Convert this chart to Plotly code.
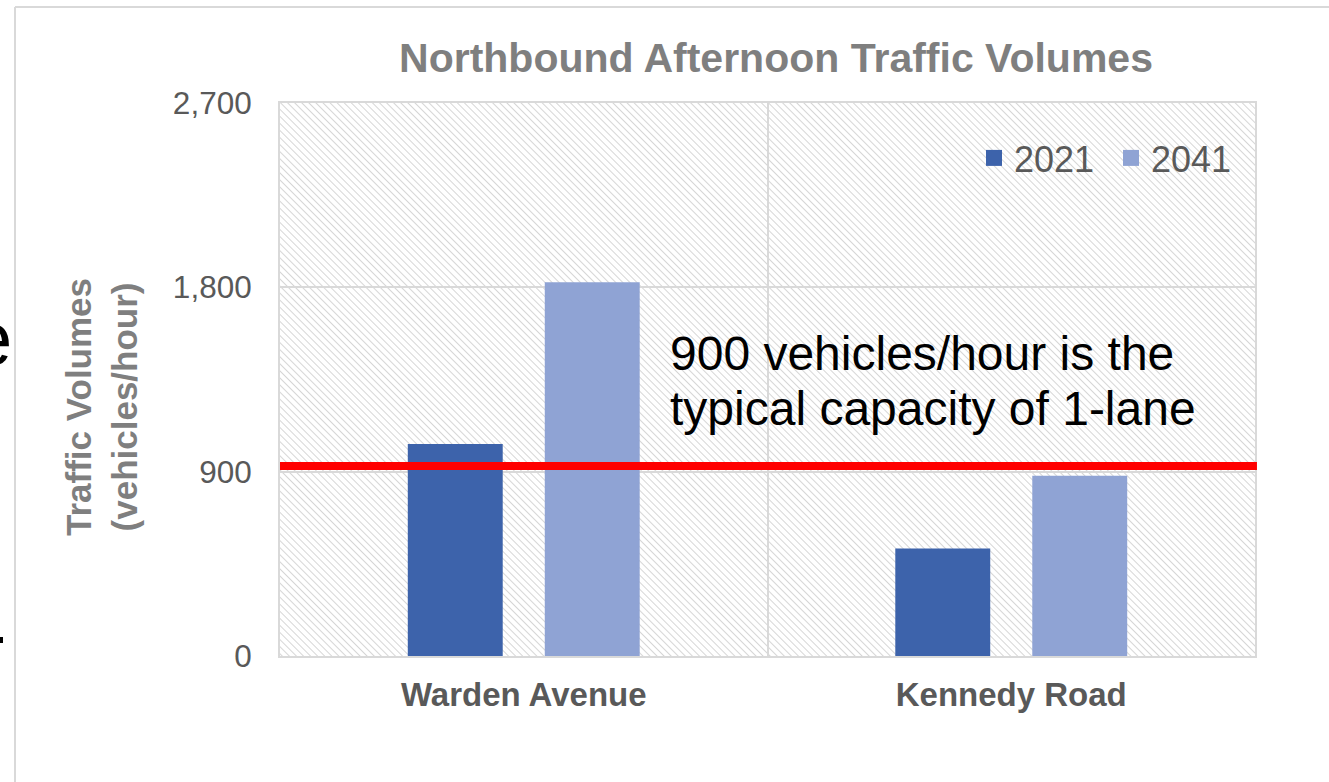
import base64
import plotly.graph_objects as go

# ---- data ----
categories = ["Warden Avenue", "Kennedy Road"]
series_names = ["2021", "2041"]
values_2021 = [1035, 525]
values_2041 = [1825, 880]
capacity_value = 928          # red reference line as drawn (labelled 900 veh/h)
y_tick_values = [0, 900, 1800, 2700]
y_tick_labels = ["0", "900", "1,800", "2,700"]
y_max = 2700
title_text = "Northbound Afternoon Traffic Volumes"
y_title_text = "Traffic Volumes<br>(vehicles/hour)"
note_lines = ["900 vehicles/hour is the", "typical capacity of 1-lane"]

colors = {"2021": "#3D63AB", "2041": "#8FA3D4"}
FONT = "Arial, Liberation Sans, sans-serif"

W, H = 1329, 782
ML, MR, MT, MB = 280, 74, 103, 126
PW, PH = W - ML - MR, H - MT - MB

def px_to_paper_x(px):
    return (px - ML) / PW

def px_to_paper_y(py):
    return (H - MB - py) / PH

# hatch background for plot area
svg = (f'<svg xmlns="http://www.w3.org/2000/svg" width="{PW}" height="{PH}" '
       f'viewBox="0 0 {PW} {PH}" preserveAspectRatio="none"><defs>'
       '<pattern id="h" width="5" height="5" patternUnits="userSpaceOnUse" '
       'patternTransform="rotate(-45)"><line x1="0" y1="-1" x2="0" y2="6" '
       'stroke="#d2d2d2" stroke-width="1.8"/></pattern></defs>'
       '<rect width="100%" height="100%" fill="url(#h)"/></svg>')
svg_uri = "data:image/svg+xml;base64," + base64.b64encode(svg.encode()).decode()

fig = go.Figure()
for name, vals in zip(series_names, [values_2021, values_2041]):
    fig.add_trace(go.Bar(x=categories, y=vals, name=name,
                         marker=dict(color=colors[name], line=dict(width=0)),
                         showlegend=False))
# legend proxies with square symbols
for name in series_names:
    fig.add_trace(go.Scatter(x=[None], y=[None], mode="markers", name=name,
                             marker=dict(symbol="square", size=18, color=colors[name])))

fig.update_layout(
    width=W, height=H,
    margin=dict(l=ML, r=MR, t=MT, b=MB),
    paper_bgcolor="white",
    plot_bgcolor="rgba(0,0,0,0)",
    barmode="group", bargap=0.438, bargroupgap=0.307,
    font=dict(family=FONT, color="#595959"),
    title=dict(text=f"<b>{title_text}</b>", x=776 / W, y=1 - 58 / H,
               xanchor="center", yanchor="middle",
               font=dict(size=41, color="#7f7f7f", family=FONT)),
    legend=dict(orientation="h", x=px_to_paper_x(974), xanchor="left",
                y=px_to_paper_y(158), yanchor="middle",
                font=dict(size=36, color="#595959", family=FONT),
                bgcolor="rgba(0,0,0,0)", itemwidth=30, entrywidth=92,
                tracegroupgap=0),
    images=[dict(source=svg_uri, xref="paper", yref="paper", x=0, y=1,
                 sizex=1, sizey=1, xanchor="left", yanchor="top",
                 sizing="stretch", layer="below")],
)
fig.update_xaxes(type="category", tickson="boundaries", showgrid=True,
                 gridcolor="#d9d9d9", gridwidth=1.5, ticks="",
                 showline=True, linecolor="#d9d9d9", linewidth=2, mirror=True,
                 tickfont=dict(size=33, color="#595959", family=FONT),
                 ticklabelstandoff=8,
                 tickvals=categories,
                 ticktext=[f"<b>{c}</b>" for c in categories])
fig.update_yaxes(range=[0, y_max], tickvals=y_tick_values, ticktext=y_tick_labels,
                 showgrid=True, gridcolor="#d9d9d9", gridwidth=1.5, ticks="",
                 zeroline=False,
                 showline=True, linecolor="#d9d9d9", linewidth=2, mirror=True,
                 tickfont=dict(size=31.5, color="#595959", family=FONT),
                 ticklabelstandoff=20)

# red capacity line
fig.add_shape(type="line", xref="paper", yref="y", x0=0, x1=1.002,
              y0=capacity_value, y1=capacity_value,
              line=dict(color="#FF0000", width=8), layer="above")

# note text
fig.add_annotation(text=note_lines[0], xref="paper", yref="paper",
                   x=px_to_paper_x(668), y=px_to_paper_y(353),
                   xanchor="left", yanchor="middle", showarrow=False,
                   font=dict(size=48, color="black", family=FONT))
fig.add_annotation(text=note_lines[1], xref="paper", yref="paper",
                   x=px_to_paper_x(668), y=px_to_paper_y(408),
                   xanchor="left", yanchor="middle", showarrow=False,
                   font=dict(size=48, color="black", family=FONT))

# y axis title
fig.add_annotation(text=f"<b>{y_title_text}</b>", xref="paper", yref="paper",
                   x=px_to_paper_x(101), y=px_to_paper_y(407),
                   xanchor="center", yanchor="middle", textangle=-90,
                   showarrow=False,
                   font=dict(size=35, color="#7f7f7f", family=FONT))

# cropped slide text at far left
fig.add_annotation(text="e", xref="paper", yref="paper",
                   x=px_to_paper_x(14), y=px_to_paper_y(338),
                   xanchor="right", yanchor="middle", showarrow=False,
                   font=dict(size=76, color="black", family=FONT))
fig.add_shape(type="rect", xref="paper", yref="paper",
              x0=px_to_paper_x(0), x1=px_to_paper_x(3),
              y0=px_to_paper_y(643), y1=px_to_paper_y(637),
              fillcolor="black", line=dict(width=0))

# outer chart border (top and left visible)
fig.add_shape(type="line", xref="paper", yref="paper",
              x0=px_to_paper_x(15), x1=px_to_paper_x(1329),
              y0=px_to_paper_y(7), y1=px_to_paper_y(7),
              line=dict(color="#d9d9d9", width=2))
fig.add_shape(type="line", xref="paper", yref="paper",
              x0=px_to_paper_x(15), x1=px_to_paper_x(15),
              y0=px_to_paper_y(7), y1=px_to_paper_y(790),
              line=dict(color="#d9d9d9", width=2))

fig.write_html("out.html", config={"displayModeBar": False},
               post_script="document.body.style.margin='0';")
